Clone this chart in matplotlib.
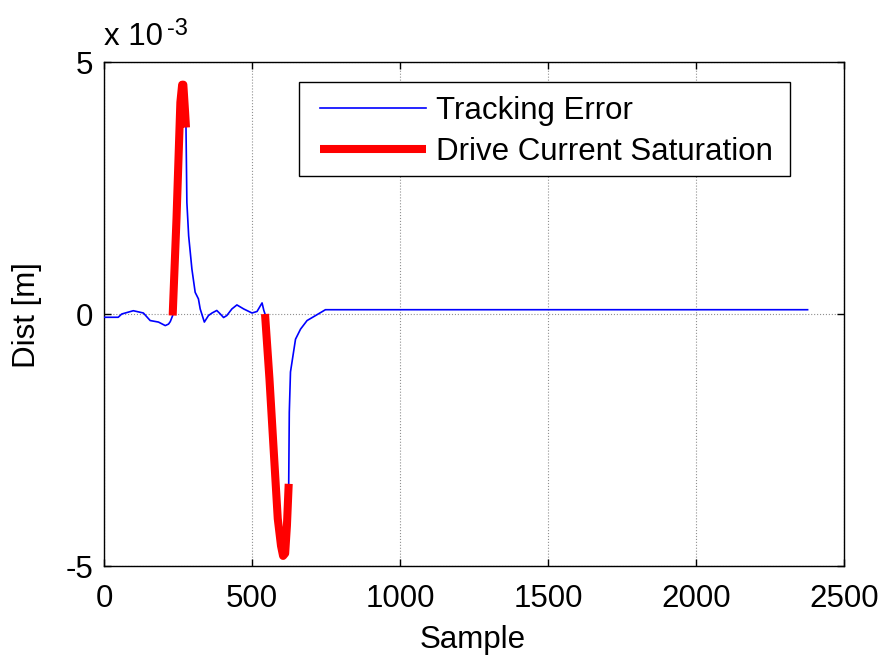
import matplotlib
matplotlib.use("Agg")
import matplotlib.pyplot as plt
from matplotlib.patches import Rectangle
import numpy as np

plt.rcParams['font.family'] = ['Liberation Sans', 'DejaVu Sans']

# Tracking error (x1e-3 m)
err_sample = [0, 48, 60, 99, 133, 156, 184, 207, 218, 224, 232, 245, 258, 264, 268, 274, 277,
              280, 286, 297, 308, 319, 325, 339, 353, 365, 381, 393, 404, 415, 432, 449,
              472, 500, 517, 534, 540, 544, 559, 579, 587, 598, 605, 612, 618, 624, 626,
              630, 647, 664, 686, 715, 748, 2377]
err_value = [-0.065, -0.065, 0.0, 0.065, 0.02, -0.13, -0.16, -0.23, -0.2, -0.15, -0.03, 1.9, 4.2, 4.55, 4.55, 4.0, 3.7,
             2.21, 1.55, 0.89, 0.43, 0.30, 0.10, -0.16, -0.03, 0.02, 0.07, 0.0, -0.07, -0.03, 0.10, 0.18,
             0.10, 0.02, 0.05, 0.22, 0.07, 0.0, -1.29, -3.27, -4.06, -4.6, -4.8, -4.75, -4.2, -3.37, -1.95,
             -1.15, -0.5, -0.3, -0.13, -0.03, 0.085, 0.085]

# Drive current saturation segments
sat1_sample = [232, 245, 258, 264, 268, 274, 277]
sat1_value = [-0.03, 1.9, 4.2, 4.55, 4.55, 4.0, 3.7]
sat2_sample = [544, 559, 579, 587, 598, 605, 612, 618, 624]
sat2_value = [0.0, -1.29, -3.27, -4.06, -4.6, -4.8, -4.75, -4.2, -3.37]

xticks = [0, 500, 1000, 1500, 2000, 2500]
yticks = [-5, 0, 5]

W, H = 886, 660
fig = plt.figure(figsize=(W / 100, H / 100), dpi=100)
ax = fig.add_axes([104 / W, (H - 566) / H, 740 / W, 504 / H])

ax.plot(err_sample, err_value, color='#0000ff', lw=1.2, label='Tracking Error', zorder=3)
ax.plot(sat1_sample, sat1_value, color='#ff0000', lw=5.8, solid_capstyle='butt',
        label='Drive Current Saturation', zorder=4)
ax.plot(sat2_sample, sat2_value, color='#ff0000', lw=5.8, solid_capstyle='butt', zorder=4)

ax.set_xlim(0, 2500)
ax.set_ylim(-5, 5)
ax.set_xticks(xticks)
ax.set_yticks(yticks)
ax.set_xticklabels([str(t) for t in xticks])
ax.set_yticklabels([str(t) for t in yticks])
ax.grid(True, linestyle=':', color='#909090', lw=0.8)
ax.tick_params(direction='in', top=True, right=True, length=5, width=1,
               labelsize=22.5, colors='black')
ax.tick_params(axis='x', pad=13)
ax.tick_params(axis='y', pad=8)
for s in ax.spines.values():
    s.set_linewidth(1.0)

# legend frame drawn as a rectangle, legend entries placed inside it
frame = Rectangle((299 / W, 1 - 176 / H), (790 - 299) / W, (176 - 82) / H,
                  transform=fig.transFigure, facecolor='white', edgecolor='black',
                  lw=1.0, zorder=5)
fig.add_artist(frame)
leg = ax.legend(loc='upper left', bbox_to_anchor=(320 / W, 1 - 96 / H),
                bbox_transform=fig.transFigure, borderaxespad=0, borderpad=0,
                fontsize=22.5, frameon=False, handlelength=3.4, handletextpad=0.3,
                labelspacing=0.35)
leg.set_zorder(6)
fig.add_artist(leg)

fig.text(473 / W, 1 - 648 / H, 'Sample', ha='center', va='baseline', fontsize=22.5)
fig.text(27 / W, 1 - 315 / H, 'Dist [m]', ha='center', va='center', rotation=90, fontsize=22.5)
fig.text(104 / W, 1 - 45 / H, 'x 10', ha='left', va='baseline', fontsize=22.5)
fig.text(167 / W, 1 - 35 / H, '-3', ha='left', va='baseline', fontsize=17)

fig.savefig('out.png', dpi=100)
